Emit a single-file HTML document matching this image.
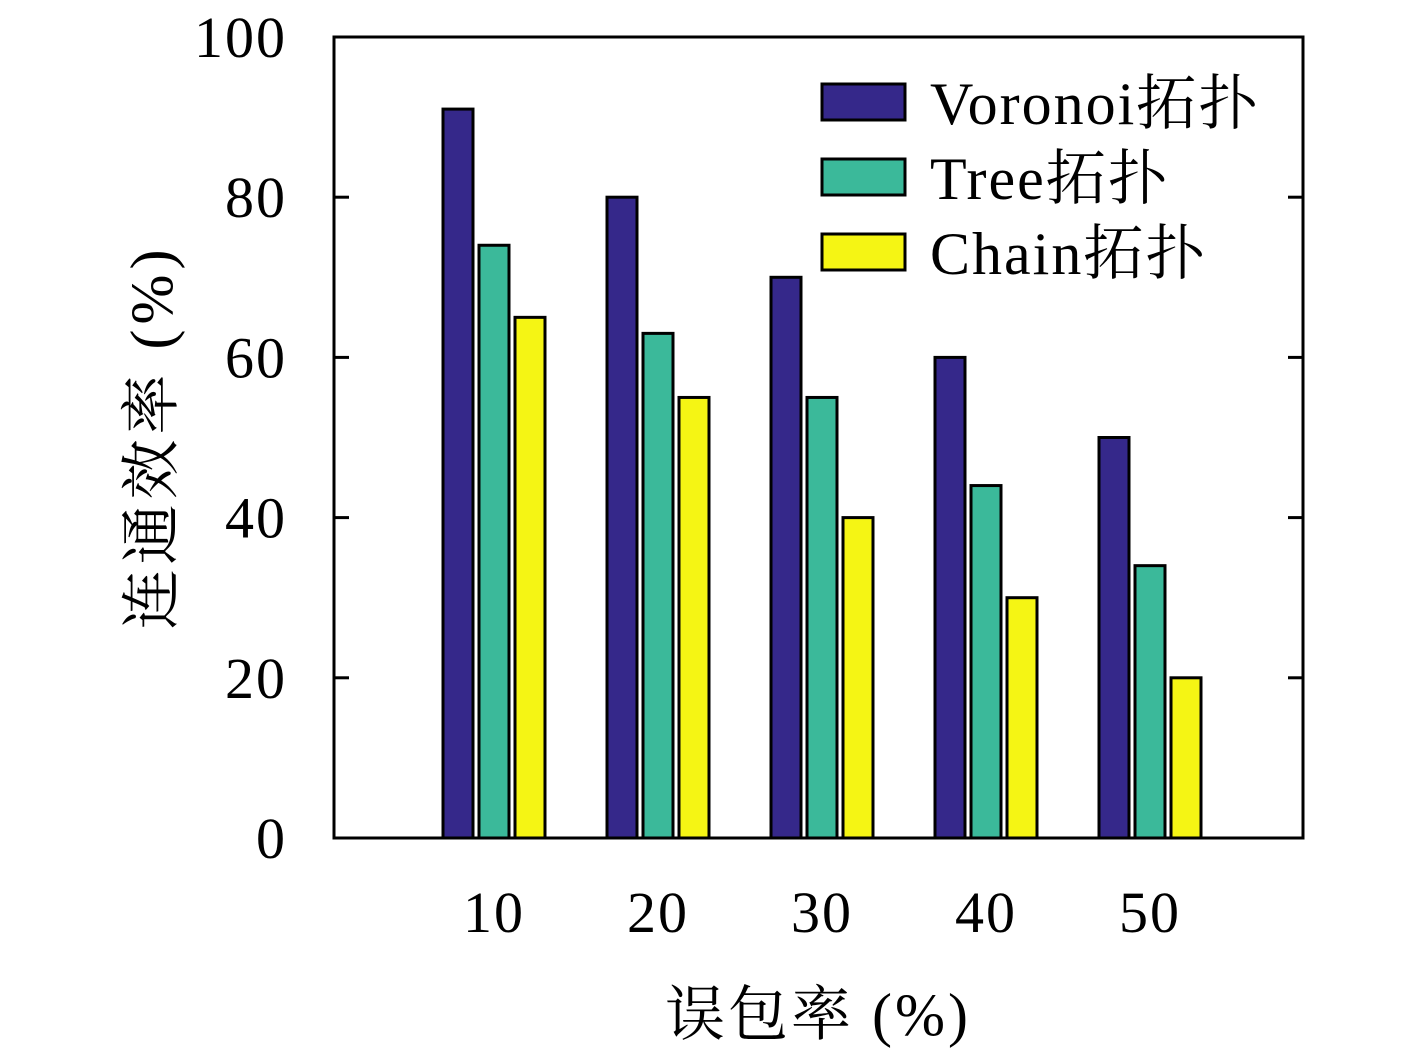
<!DOCTYPE html>
<html><head><meta charset="utf-8"><style>
body{margin:0;background:#fff;}
svg text{font-family:"Liberation Serif","Noto Serif CJK SC",serif;fill:#000;}
</style></head><body>
<svg width="1417" height="1051" viewBox="0 0 1417 1051">
<g id="plot"></g>
<text x="818" y="1035" font-size="60" letter-spacing="3" text-anchor="middle">误包率 (%)</text>
<text transform="translate(172,437) rotate(-90)" font-size="60" letter-spacing="5" text-anchor="middle">连通效率 (%)</text>
</svg>
<script>
const categories=["10","20","30","40","50"];
const voronoi=[91,80,70,60,50];
const tree=[74,63,55,44,34];
const chain=[65,55,40,30,20];
const yTicks=[0,20,40,60,80,100];
const seriesNames=["Voronoi拓扑","Tree拓扑","Chain拓扑"];
const colors=["#35288a","#3bb99a","#f5f514"];
const L=334,R=1303,T=37,B=838;
const y=v=>B-(v/100)*(B-T);
const x=i=>494+i*164;
const g=document.getElementById('plot');
const NS="http://www.w3.org/2000/svg";
function mk(t,a){const e=document.createElementNS(NS,t);for(const k in a)e.setAttribute(k,a[k]);g.appendChild(e);return e;}
[voronoi,tree,chain].forEach((s,si)=>{
 s.forEach((v,i)=>{
  const cx=x(i)+(si-1)*36;
  const r=mk('rect',{x:cx-15,y:y(v),width:30,height:B-y(v),fill:colors[si],stroke:'#000','stroke-width':3});
  
  
 });
});
const fr=mk('rect',{x:L,y:T,width:R-L,height:B-T,fill:'none',stroke:'#000','stroke-width':3});


yTicks.forEach(t=>{
 mk('line',{x1:L,x2:L+15,y1:y(t),y2:y(t),stroke:'#000','stroke-width':3});
 mk('line',{x1:R-15,x2:R,y1:y(t),y2:y(t),stroke:'#000','stroke-width':3});
 const tx=mk('text',{x:287,y:y(t)+20,'font-size':58,'letter-spacing':2,'text-anchor':'end'});
 tx.textContent=t;
 
 
});
categories.forEach((c,i)=>{
 const tx=mk('text',{x:x(i),y:932,'font-size':58,'letter-spacing':2,'text-anchor':'middle'});
 tx.textContent=c;
 
 
});
seriesNames.forEach((n,i)=>{
 const cy=102+i*75;
 const r=mk('rect',{x:822,y:cy-18,width:83,height:36,fill:colors[i],stroke:'#000','stroke-width':3});
 
 
 const tx=mk('text',{x:930,y:cy+22,'font-size':60,'letter-spacing':2});
 tx.textContent=n;
 
 
});
</script>
</body></html>
